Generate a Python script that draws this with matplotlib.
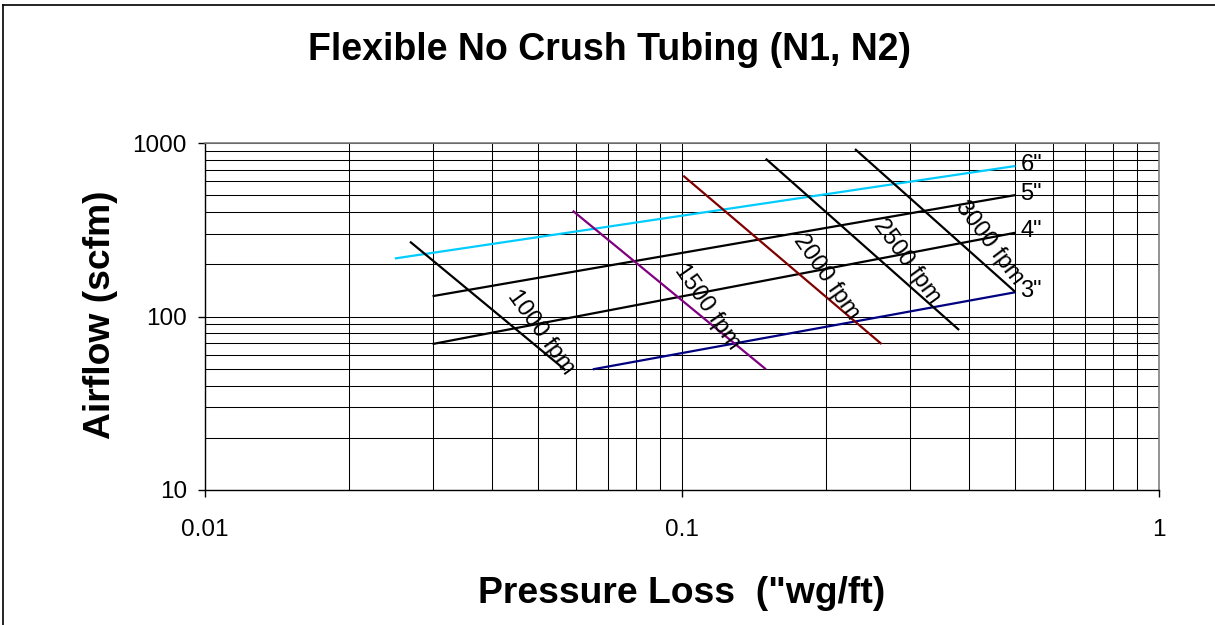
import matplotlib
matplotlib.use("Agg")
import matplotlib.pyplot as plt
from matplotlib.lines import Line2D
from matplotlib.ticker import LogLocator, NullFormatter

plt.rcParams['font.family'] = ['Liberation Sans', 'DejaVu Sans']

# Duct size lines (pressure loss "wg/ft, airflow scfm)
duct_labels = ['6"', '5"', '4"', '3"']
duct_x = [[0.025, 0.50], [0.030, 0.50], [0.030, 0.50], [0.065, 0.50]]
duct_y = [[216, 737], [131, 501], [69.4, 304], [49.6, 138]]
duct_colors = ['#00CCFF', '#000000', '#000000', '#000080']

# Velocity lines
vel_labels = ['1000 fpm', '1500 fpm', '2000 fpm', '2500 fpm', '3000 fpm']
vel_x = [[0.0269, 0.057], [0.059, 0.150], [0.1006, 0.262], [0.1498, 0.381], [0.2305, 0.499]]
vel_y = [[270, 49], [407, 49.6], [648, 69.4], [812, 83.6], [923, 139]]
vel_colors = ['#000000', '#800080', '#800000', '#000000', '#000000']
vel_label_x = [0.0506, 0.1131, 0.2011, 0.2959, 0.440]
vel_label_y = [81.4, 113.9, 169.6, 207, 265]
vel_label_rot = [-54, -55, -55, -54, -53]

title = 'Flexible No Crush Tubing (N1, N2)'
xlabel = 'Pressure Loss  ("wg/ft)'
ylabel = 'Airflow (scfm)'
xticks = [0.01, 0.1, 1]
xticklabels = ['0.01', '0.1', '1']
yticks = [10, 100, 1000]
yticklabels = ['10', '100', '1000']

W, H = 1215, 625
fig = plt.figure(figsize=(W / 100, H / 100), dpi=100)
ax = fig.add_axes([205 / W, 1 - 490 / H, 954 / W, 347 / H])
ax.set_xscale('log')
ax.set_yscale('log')
ax.set_xlim(0.01, 1)
ax.set_ylim(10, 1000)

ax.set_xticks(xticks)
ax.set_xticklabels(xticklabels)
ax.set_yticks(yticks)
ax.set_yticklabels(yticklabels)
ax.xaxis.set_minor_locator(LogLocator(base=10, subs=range(2, 10)))
ax.yaxis.set_minor_locator(LogLocator(base=10, subs=range(2, 10)))
ax.xaxis.set_minor_formatter(NullFormatter())
ax.yaxis.set_minor_formatter(NullFormatter())
ax.grid(True, which='both', color='#000000', linewidth=0.75)
ax.set_axisbelow(True)
ax.tick_params(which='minor', length=0)
ax.tick_params(which='major', direction='out', length=5, width=1, color='#000000',
               labelsize=17.5)
ax.tick_params(axis='x', which='major', pad=16)
ax.tick_params(axis='y', which='major', pad=8)
for s in ['left', 'bottom']:
    ax.spines[s].set_color('#000000')
    ax.spines[s].set_linewidth(1)
for s in ['top', 'right']:
    ax.spines[s].set_color('#808080')
    ax.spines[s].set_linewidth(1.2)

for xs, ys, c, lab in zip(duct_x, duct_y, duct_colors, duct_labels):
    ax.plot(xs, ys, color=c, linewidth=1.6, solid_capstyle='butt')
    ax.annotate(lab, xy=(xs[-1], ys[-1]), xytext=(3.5, 1), textcoords='offset points',
                ha='left', va='center', fontsize=17)

for xs, ys, c in zip(vel_x, vel_y, vel_colors):
    ax.plot(xs, ys, color=c, linewidth=1.6, solid_capstyle='butt')
for lx, ly, lab, rot in zip(vel_label_x, vel_label_y, vel_labels, vel_label_rot):
    ax.text(lx, ly, lab, rotation=rot, rotation_mode='anchor', ha='center', va='center',
            fontsize=17)

fig.text(610 / W, 1 - 59.5 / H, title, ha='center', va='baseline',
         fontsize=27, fontweight='bold')
fig.text(682 / W, 1 - 603 / H, xlabel, ha='center', va='baseline',
         fontsize=26.8, fontweight='bold')
fig.text(110 / W, 1 - 315 / H, ylabel, ha='center', va='baseline', rotation=90,
         rotation_mode='anchor', fontsize=26.8, fontweight='bold')

# outer chart frame (only top and left edges visible)
fig.add_artist(Line2D([3 / W, 1], [1 - 4.5 / H, 1 - 4.5 / H], transform=fig.transFigure,
                      color='#000000', linewidth=1.2))
fig.add_artist(Line2D([3 / W, 3 / W], [0, 1 - 4.5 / H], transform=fig.transFigure,
                      color='#000000', linewidth=1.2))

fig.savefig('out.png', dpi=100)
